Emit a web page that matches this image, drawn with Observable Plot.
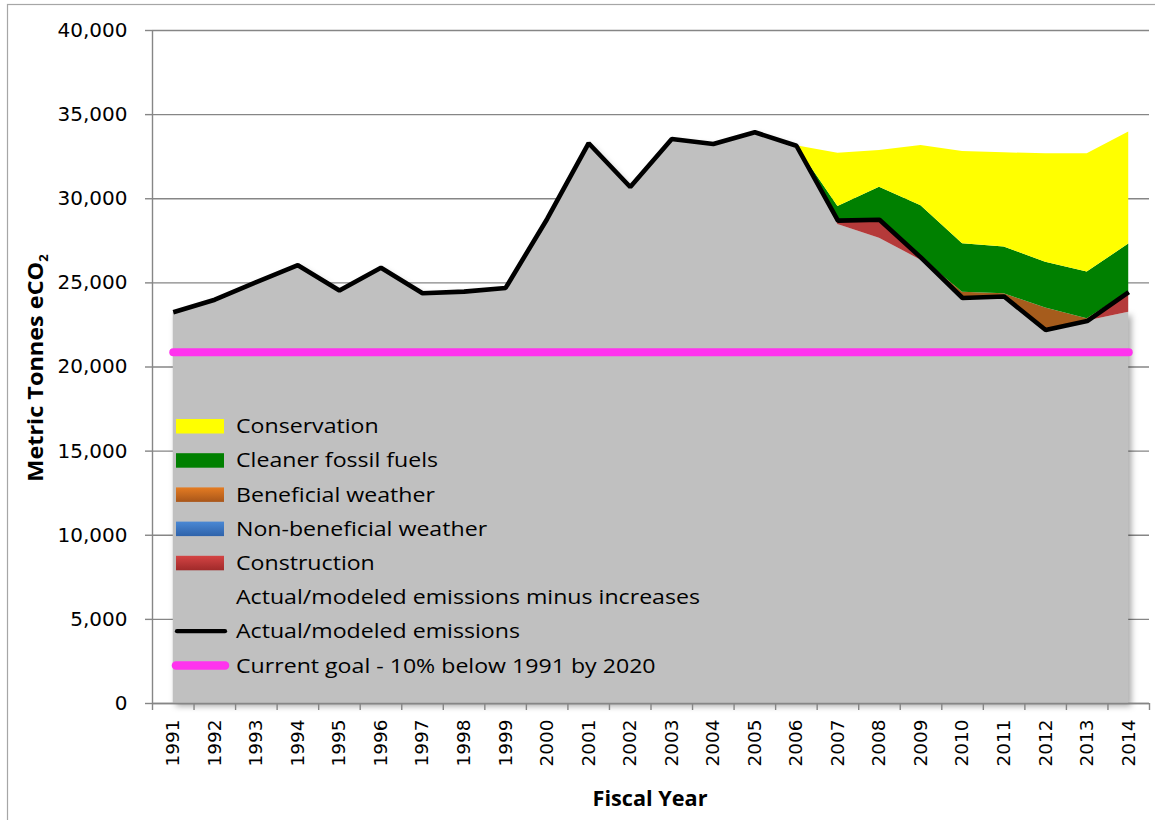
<!DOCTYPE html>
<html>
<head>
<meta charset="utf-8">
<script src="https://cdn.jsdelivr.net/npm/d3@7"></script>
<script src="https://cdn.jsdelivr.net/npm/@observablehq/plot@0.6"></script>
<style>
  body { margin: 0; background: #fff; }
  #chart { position: relative; width: 1155px; height: 820px; overflow: hidden; }
  #chart svg { display: block; }
</style>
</head>
<body>
<div id="chart"></div>
<script>
// ---------- DATA ----------
const years = [1991,1992,1993,1994,1995,1996,1997,1998,1999,2000,2001,2002,2003,2004,2005,2006,2007,2008,2009,2010,2011,2012,2013,2014];
const actual = [23250,24000,25050,26050,24550,25900,24380,24480,24700,28800,33300,30700,33550,33250,33950,33150,28700,28750,26500,24100,24190,22200,22730,24450];
const minusIncreases = [23250,24000,25050,26050,24550,25900,24380,24480,24700,28800,33300,30700,33550,33250,33950,33150,28470,27650,26350,24050,24040,22200,22730,23250];
const changeYears = [2006,2007,2008,2009,2010,2011,2012,2013,2014];
const construction  = [0, 230, 1100,    0,    0,    0,    0,    0, 1200];
const nonBeneficial = [0,   0,    0,  150,   50,  150,    0,    0,    0];
const beneficial    = [0,   0,    0,    0,  350,  160, 1300,  140,    0];
const cleanerFossil = [0, 840, 1940, 3080, 2880, 2780, 2730, 2770, 2860];
const conservation  = [0,3170, 2180, 3590, 5480, 5600, 6440, 7030, 6650];
const goalValue = 20880;
const yTicks = [0,5000,10000,15000,20000,25000,30000,35000,40000];
const seriesNames = ["Actual/modeled emissions minus increases","Construction","Non-beneficial weather","Beneficial weather","Cleaner fossil fuels","Conservation"];
const seriesColors = ["#C0C0C0","#B53A3A","#3A78C6","#A65C1C","#008000","#FFFF00"];
const legendLabels = ["Conservation","Cleaner fossil fuels","Beneficial weather","Non-beneficial weather","Construction","Actual/modeled emissions minus increases","Actual/modeled emissions","Current goal - 10% below 1991 by 2020"];

// ---------- TABLES ----------
const stackRows = [
  ...years.map((yr, i) => ({year: yr, series: seriesNames[0], value: minusIncreases[i]})),
  ...[construction, nonBeneficial, beneficial, cleanerFossil, conservation].flatMap((arr, k) =>
      changeYears.map((yr, i) => ({year: yr, series: seriesNames[k + 1], value: arr[i]})))
];
const actualRows = years.map((yr, i) => ({year: yr, value: actual[i]}));
const goalRows = years.map(yr => ({year: yr, value: goalValue}));
const boundaries = years.map(yr => yr - 0.5).concat([years[years.length - 1] + 0.5]);

const gridColor = "#868686";

const chart = Plot.plot({
  width: 1155,
  height: 820,
  marginTop: 30,
  marginBottom: 117,
  marginLeft: 152,
  marginRight: 6,
  x: {domain: [years[0] - 0.5, years[years.length - 1] + 0.5]},
  y: {domain: [0, 40000]},
  color: {domain: seriesNames, range: seriesColors},
  marks: [
    Plot.gridY(yTicks, {stroke: gridColor, strokeOpacity: 1, strokeWidth: 1.4}),
    Plot.areaY(stackRows, Plot.stackY({x: "year", y: "value", z: "series", fill: "series"})),
    Plot.line(goalRows, {x: "year", y: "value", stroke: "#FF33EE", strokeWidth: 8, strokeLinecap: "round"}),
    Plot.line(actualRows, {x: "year", y: "value", stroke: "#000", strokeWidth: 4.6, strokeLinejoin: "miter", strokeLinecap: "butt"}),
    Plot.ruleX([years[0] - 0.5], {stroke: gridColor, strokeWidth: 1.4}),
    Plot.ruleY([0], {stroke: gridColor, strokeWidth: 1.4}),
    Plot.axisY(yTicks, {tickSize: 7, tickPadding: 18, tickFormat: d3.format(","), stroke: gridColor, color: "#000", strokeWidth: 1.4,
      fontSize: 20, fontFamily: "DejaVu Sans", label: null}),
    Plot.axisX(boundaries, {tickSize: 7, tickFormat: () => "", stroke: gridColor, strokeWidth: 1.4, label: null}),
    Plot.text(years, {x: d => d, text: d => String(d), frameAnchor: "bottom", rotate: -90, textAnchor: "end", lineAnchor: "middle",
      dy: 16, fontSize: 18.5, fontFamily: "DejaVu Sans", fill: "#000"})
  ]
});

document.getElementById("chart").appendChild(chart);
const svg = d3.select(chart);

// fit a text to a target length (reference uses Calibri, which is not installed)
function stretch(sel, ratio) {
  sel.each(function() {
    const L = this.getComputedTextLength();
    if (L > 0) {
      this.setAttribute("textLength", (L * ratio).toFixed(2));
      this.setAttribute("lengthAdjust", "spacingAndGlyphs");
    }
  });
}

// shadow for the base area
svg.selectAll('g[aria-label="area"] path').filter(function() {
  return (this.getAttribute("fill") || "").toLowerCase() === "#c0c0c0";
}).style("filter", "drop-shadow(3px 3px 3px rgba(0,0,0,0.35))");

// outer border
svg.append("rect").attr("x", 7.5).attr("y", 4.5).attr("width", 1160).attr("height", 830)
  .attr("fill", "none").attr("stroke", "#a6a6a6").attr("stroke-width", 1.2);

// axis titles
const yt = svg.append("text").attr("transform", "translate(43,368) rotate(-90)").attr("text-anchor", "middle")
  .style("font-family", "'Open Sans'").style("font-weight", "bold").style("font-size", "21px").attr("fill", "#000");
const ytMain = yt.append("tspan").text("Metric Tonnes eCO");
yt.append("tspan").text("2").style("font-size", "13px").attr("dy", 5);
ytMain.attr("textLength", 220).attr("lengthAdjust", "spacingAndGlyphs");
const fy = svg.append("text").attr("x", 650).attr("y", 806).attr("text-anchor", "middle")
  .style("font-family", "'Open Sans'").style("font-weight", "bold").style("font-size", "21px").attr("fill", "#000").text("Fiscal Year");
fy.attr("textLength", 115).attr("lengthAdjust", "spacingAndGlyphs");

// legend
const defs = svg.append("defs");
const grads = {orange: ["#E57C22", "#A8561A"], blue: ["#4A88D4", "#2E62AA"], red: ["#D44444", "#A02A2A"]};
Object.entries(grads).forEach(([k, [a, b]]) => {
  const g = defs.append("linearGradient").attr("id", "lg-" + k).attr("x1", 0).attr("y1", 0).attr("x2", 0).attr("y2", 1);
  g.append("stop").attr("offset", "0%").attr("stop-color", a);
  g.append("stop").attr("offset", "100%").attr("stop-color", b);
});
const swatches = ["#FFFF00", "#008000", "url(#lg-orange)", "url(#lg-blue)", "url(#lg-red)", null, "line-black", "line-pink"];
const leg = svg.append("g").attr("text-anchor", "start");
const legTexts = [];
legendLabels.forEach((lab, i) => {
  const cy = 426 + i * 34.2;
  const sw = swatches[i];
  if (sw === "line-black") {
    leg.append("line").attr("x1", 177).attr("x2", 225).attr("y1", cy).attr("y2", cy)
      .attr("stroke", "#000").attr("stroke-width", 4.3).attr("stroke-linecap", "round");
  } else if (sw === "line-pink") {
    leg.append("line").attr("x1", 176).attr("x2", 225).attr("y1", cy).attr("y2", cy)
      .attr("stroke", "#FF33EE").attr("stroke-width", 8.5).attr("stroke-linecap", "round");
  } else if (sw) {
    leg.append("rect").attr("x", 176).attr("y", cy - 7).attr("width", 48).attr("height", 14.5).attr("fill", sw);
  }
  legTexts.push(leg.append("text").attr("x", 236).attr("y", cy).attr("dy", "0.35em").attr("text-anchor", "start")
    .style("font-family", "'Open Sans'").style("font-size", "20.5px").attr("fill", "#000").text(lab));
});
// match the reference text widths (longest label spans ~464px)
const longest = legTexts[5].node().getComputedTextLength();
const legRatio = longest > 0 ? 464 / longest : 1;
legTexts.forEach(t => stretch(t, legRatio));
</script>
</body>
</html>
